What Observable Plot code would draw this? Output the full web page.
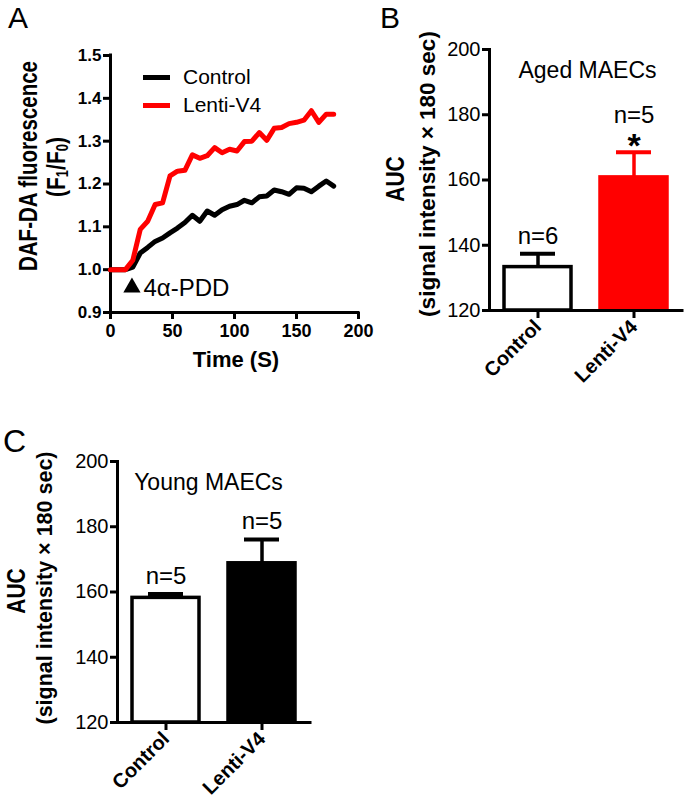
<!DOCTYPE html>
<html><head><meta charset="utf-8">
<script src="https://cdn.jsdelivr.net/npm/d3@7"></script>
<script src="https://cdn.jsdelivr.net/npm/@observablehq/plot@0.6"></script>
<style>
body{margin:0;background:#fff;}
#root{position:relative;width:685px;height:809px;overflow:hidden;font-family:"Liberation Sans",Arial,sans-serif;color:#000;background:#fff;}
#root svg{position:absolute;}
.t{position:absolute;white-space:nowrap;line-height:1;}
.t sub{font-size:0.62em;vertical-align:-0.18em;line-height:0;}
</style></head><body><div id="root"></div>
<script>
// ---------- Panel A data ----------
const timeSec = [0,6,12,18,24,30,36,42,48,54,60,66,72,78,84,90,96,102,108,114,120,126,132,138,144,150,156,162,168,174,180];
const controlF = [1.0,1.0,1.0,1.006,1.039,1.052,1.066,1.074,1.086,1.097,1.110,1.127,1.113,1.137,1.127,1.140,1.148,1.152,1.162,1.156,1.170,1.172,1.186,1.182,1.176,1.191,1.190,1.182,1.195,1.207,1.195];
const lentiF = [1.0,1.0,1.0,1.022,1.094,1.113,1.152,1.156,1.219,1.230,1.232,1.268,1.260,1.266,1.285,1.273,1.281,1.277,1.299,1.300,1.320,1.302,1.330,1.332,1.341,1.344,1.349,1.371,1.344,1.363,1.363];
const xDomainA = [0, 200];
const yDomainA = [0.9, 1.5];
const xTicksA = [0, 50, 100, 150, 200];
const yTicksA = [0.9, 1.0, 1.1, 1.2, 1.3, 1.4, 1.5];
const seriesNames = ["Control", "Lenti-V4"];
const stimTime = 17.3;
const stimLabel = "4α-PDD";

// ---------- Panels B & C data ----------
const groups = ["Control", "Lenti-V4"];
const yDomainBar = [120, 200];
const yTicksBar = [120, 140, 160, 180, 200];
const agedMean = [133.3, 160.8];
const agedSem = [4.1, 7.7];
const agedN = ["n=6", "n=5"];
const agedSig = ["", "*"];
const youngMean = [158.2, 168.8];
const youngSem = [1.2, 7.3];
const youngN = ["n=5", "n=5"];
const youngSig = ["", ""];

const FONT = '"Liberation Sans", Arial, sans-serif';
const RED = "#ff0000";
const root = document.getElementById("root");

function place(svg, left, top) {
  svg.style.left = left + "px";
  svg.style.top = top + "px";
  root.appendChild(svg);
}
function label(html, {x, y, size = 20, weight = "normal", anchor = "start", rotate = false, thick = 1}) {
  const d = document.createElement("div");
  d.className = "t";
  d.innerHTML = html;
  d.style.fontSize = size + "px";
  d.style.fontWeight = weight;
  d.style.left = x + "px";
  if (rotate) {
    d.style.top = y + "px";
    d.style.transform = `translate(-50%,-50%) rotate(-90deg) scale(1, ${thick})`;
  } else {
    d.style.top = (y - 0.8465 * size) + "px"; // y = baseline
    if (anchor === "middle") d.style.transform = "translateX(-50%)";
  }
  root.appendChild(d);
}
function legendLine(color, x, y) {
  const d = document.createElement("div");
  d.style.cssText = `position:absolute;left:${x}px;top:${y - 2.5}px;width:27px;height:5px;background:${color};`;
  root.appendChild(d);
}

// ---------- Panel A ----------
const ctrlData = timeSec.map((t, i) => ({t, v: controlF[i]}));
const lentiData = timeSec.map((t, i) => ({t, v: lentiF[i]}));
const plotA = Plot.plot({
  width: 380, height: 380,
  marginLeft: 110, marginRight: 22, marginTop: 55, marginBottom: 68,
  x: {domain: xDomainA},
  y: {domain: yDomainA},
  style: {fontFamily: FONT, background: "transparent", color: "black", overflow: "visible"},
  marks: [
    Plot.axisX(xTicksA, {tickSize: 7, tickPadding: 5, fontSize: 18, fontWeight: "bold", strokeWidth: 3, label: null}),
    Plot.axisY(yTicksA, {tickSize: 7, tickPadding: 2, fontSize: 17, fontWeight: "bold", strokeWidth: 3, tickFormat: d3.format(".1f"), label: null}),
    Plot.ruleX([xDomainA[0]], {strokeWidth: 3, strokeLinecap: "square"}),
    Plot.ruleY([yDomainA[0]], {strokeWidth: 3, strokeLinecap: "square"}),
    Plot.line(ctrlData, {x: "t", y: "v", stroke: "black", strokeWidth: 5}),
    Plot.line(lentiData, {x: "t", y: "v", stroke: RED, strokeWidth: 5}),
    Plot.dot([stimTime], {x: d => d, frameAnchor: "bottom", dy: -25, symbol: "triangle", r: 6.4, fill: "black", stroke: "none"}),
    Plot.text([stimLabel], {x: () => stimTime, text: d => d, frameAnchor: "bottom", dy: -17, dx: 11.5, textAnchor: "start", lineAnchor: "bottom", fontSize: 24})
  ]
});
place(plotA, 0, 0);

label("A", {x: 8, y: 28, size: 30});
label("DAF-DA fluorescence", {x: 28, y: 166, size: 20.5, weight: "bold", rotate: true, thick: 1.3});
label("(F<sub>1</sub>/F<sub>0</sub>)", {x: 56, y: 167, size: 21, weight: "bold", rotate: true, thick: 1.2});
label("Time (S)", {x: 236, y: 368, size: 22, weight: "bold", anchor: "middle"});
legendLine("black", 143, 77);
legendLine(RED, 143, 105);
label(seriesNames[0], {x: 183, y: 84, size: 21});
label(seriesNames[1], {x: 183, y: 112, size: 21});

// ---------- Bar panels ----------
function barPanel(cfg) {
  const data = groups.map((g, i) => ({group: g, mean: cfg.mean[i], sem: cfg.sem[i], n: cfg.n[i], sig: cfg.sig[i]}));
  const fillOf = d => d.group === groups[0] ? "white" : cfg.color;
  const strokeOf = d => d.group === groups[0] ? "black" : cfg.color;
  const top = d => d.mean + d.sem;
  return Plot.plot({
    width: cfg.width, height: cfg.height,
    marginLeft: cfg.mL, marginRight: cfg.mR, marginTop: cfg.mT, marginBottom: cfg.mB,
    x: {domain: groups, paddingInner: 0.3, paddingOuter: 0.15},
    y: {domain: yDomainBar},
    style: {fontFamily: FONT, background: "transparent", color: "black", overflow: "visible"},
    marks: [
      Plot.barY(data, {x: "group", y1: yDomainBar[0], y2: "mean", fill: fillOf, stroke: strokeOf, strokeWidth: 3.5}),
      Plot.ruleX(data, {x: "group", y1: "mean", y2: top, stroke: strokeOf, strokeWidth: 3.5}),
      Plot.tickY(data, {x: "group", y: top, stroke: strokeOf, strokeWidth: 4, insetLeft: 16, insetRight: 16}),
      Plot.text(data.filter(d => !d.sig), {x: "group", y: top, text: "n", dy: -10, lineAnchor: "bottom", fontSize: 24}),
      Plot.text(data.filter(d => d.sig), {x: "group", y: top, text: "n", dy: -29, lineAnchor: "bottom", fontSize: 24}),
      Plot.text(data.filter(d => d.sig), {x: "group", y: top, text: "sig", dy: 5, lineAnchor: "bottom", fontSize: 34, fontWeight: "bold"}),
      Plot.text([cfg.title], {text: d => d, frameAnchor: "top", dx: cfg.titleDx, dy: 12, lineAnchor: "top", fontSize: 23}),
      Plot.axisY(yTicksBar, {tickSize: 7, tickPadding: 2, fontSize: 20, strokeWidth: 3, label: null}),
      Plot.axisX({tickSize: 8, tickPadding: 5, tickRotate: -45, fontSize: 20, fontWeight: "bold", strokeWidth: 3, label: null}),
      Plot.ruleY([yDomainBar[0]], {strokeWidth: 3, strokeLinecap: "square"}),
      Plot.frame({anchor: "left", strokeWidth: 3})
    ]
  });
}

const plotB = barPanel({mean: agedMean, sem: agedSem, n: agedN, sig: agedSig, color: RED, title: "Aged MAECs",
  width: 305, height: 400, mL: 109, mR: 3, mT: 49, mB: 90, titleDx: 1.5});
place(plotB, 380, 0);
label("B", {x: 380, y: 28, size: 30});
label("AUC", {x: 395, y: 179, size: 21, weight: "bold", rotate: true, thick: 1.25});
label("(signal intensity × 180 sec)", {x: 428, y: 174, size: 22.5, weight: "bold", rotate: true});

const plotC = barPanel({mean: youngMean, sem: youngSem, n: youngN, sig: youngSig, color: "black", title: "Young MAECs",
  width: 330, height: 409, mL: 117, mR: 20, mT: 61, mB: 87, titleDx: -5.5});
place(plotC, 0, 400);
label("C", {x: 3, y: 452, size: 32});
label("AUC", {x: 16, y: 591, size: 21, weight: "bold", rotate: true, thick: 1.25});
label("(signal intensity × 180 sec)", {x: 46, y: 588, size: 21.5, weight: "bold", rotate: true});
</script>
</body></html>
